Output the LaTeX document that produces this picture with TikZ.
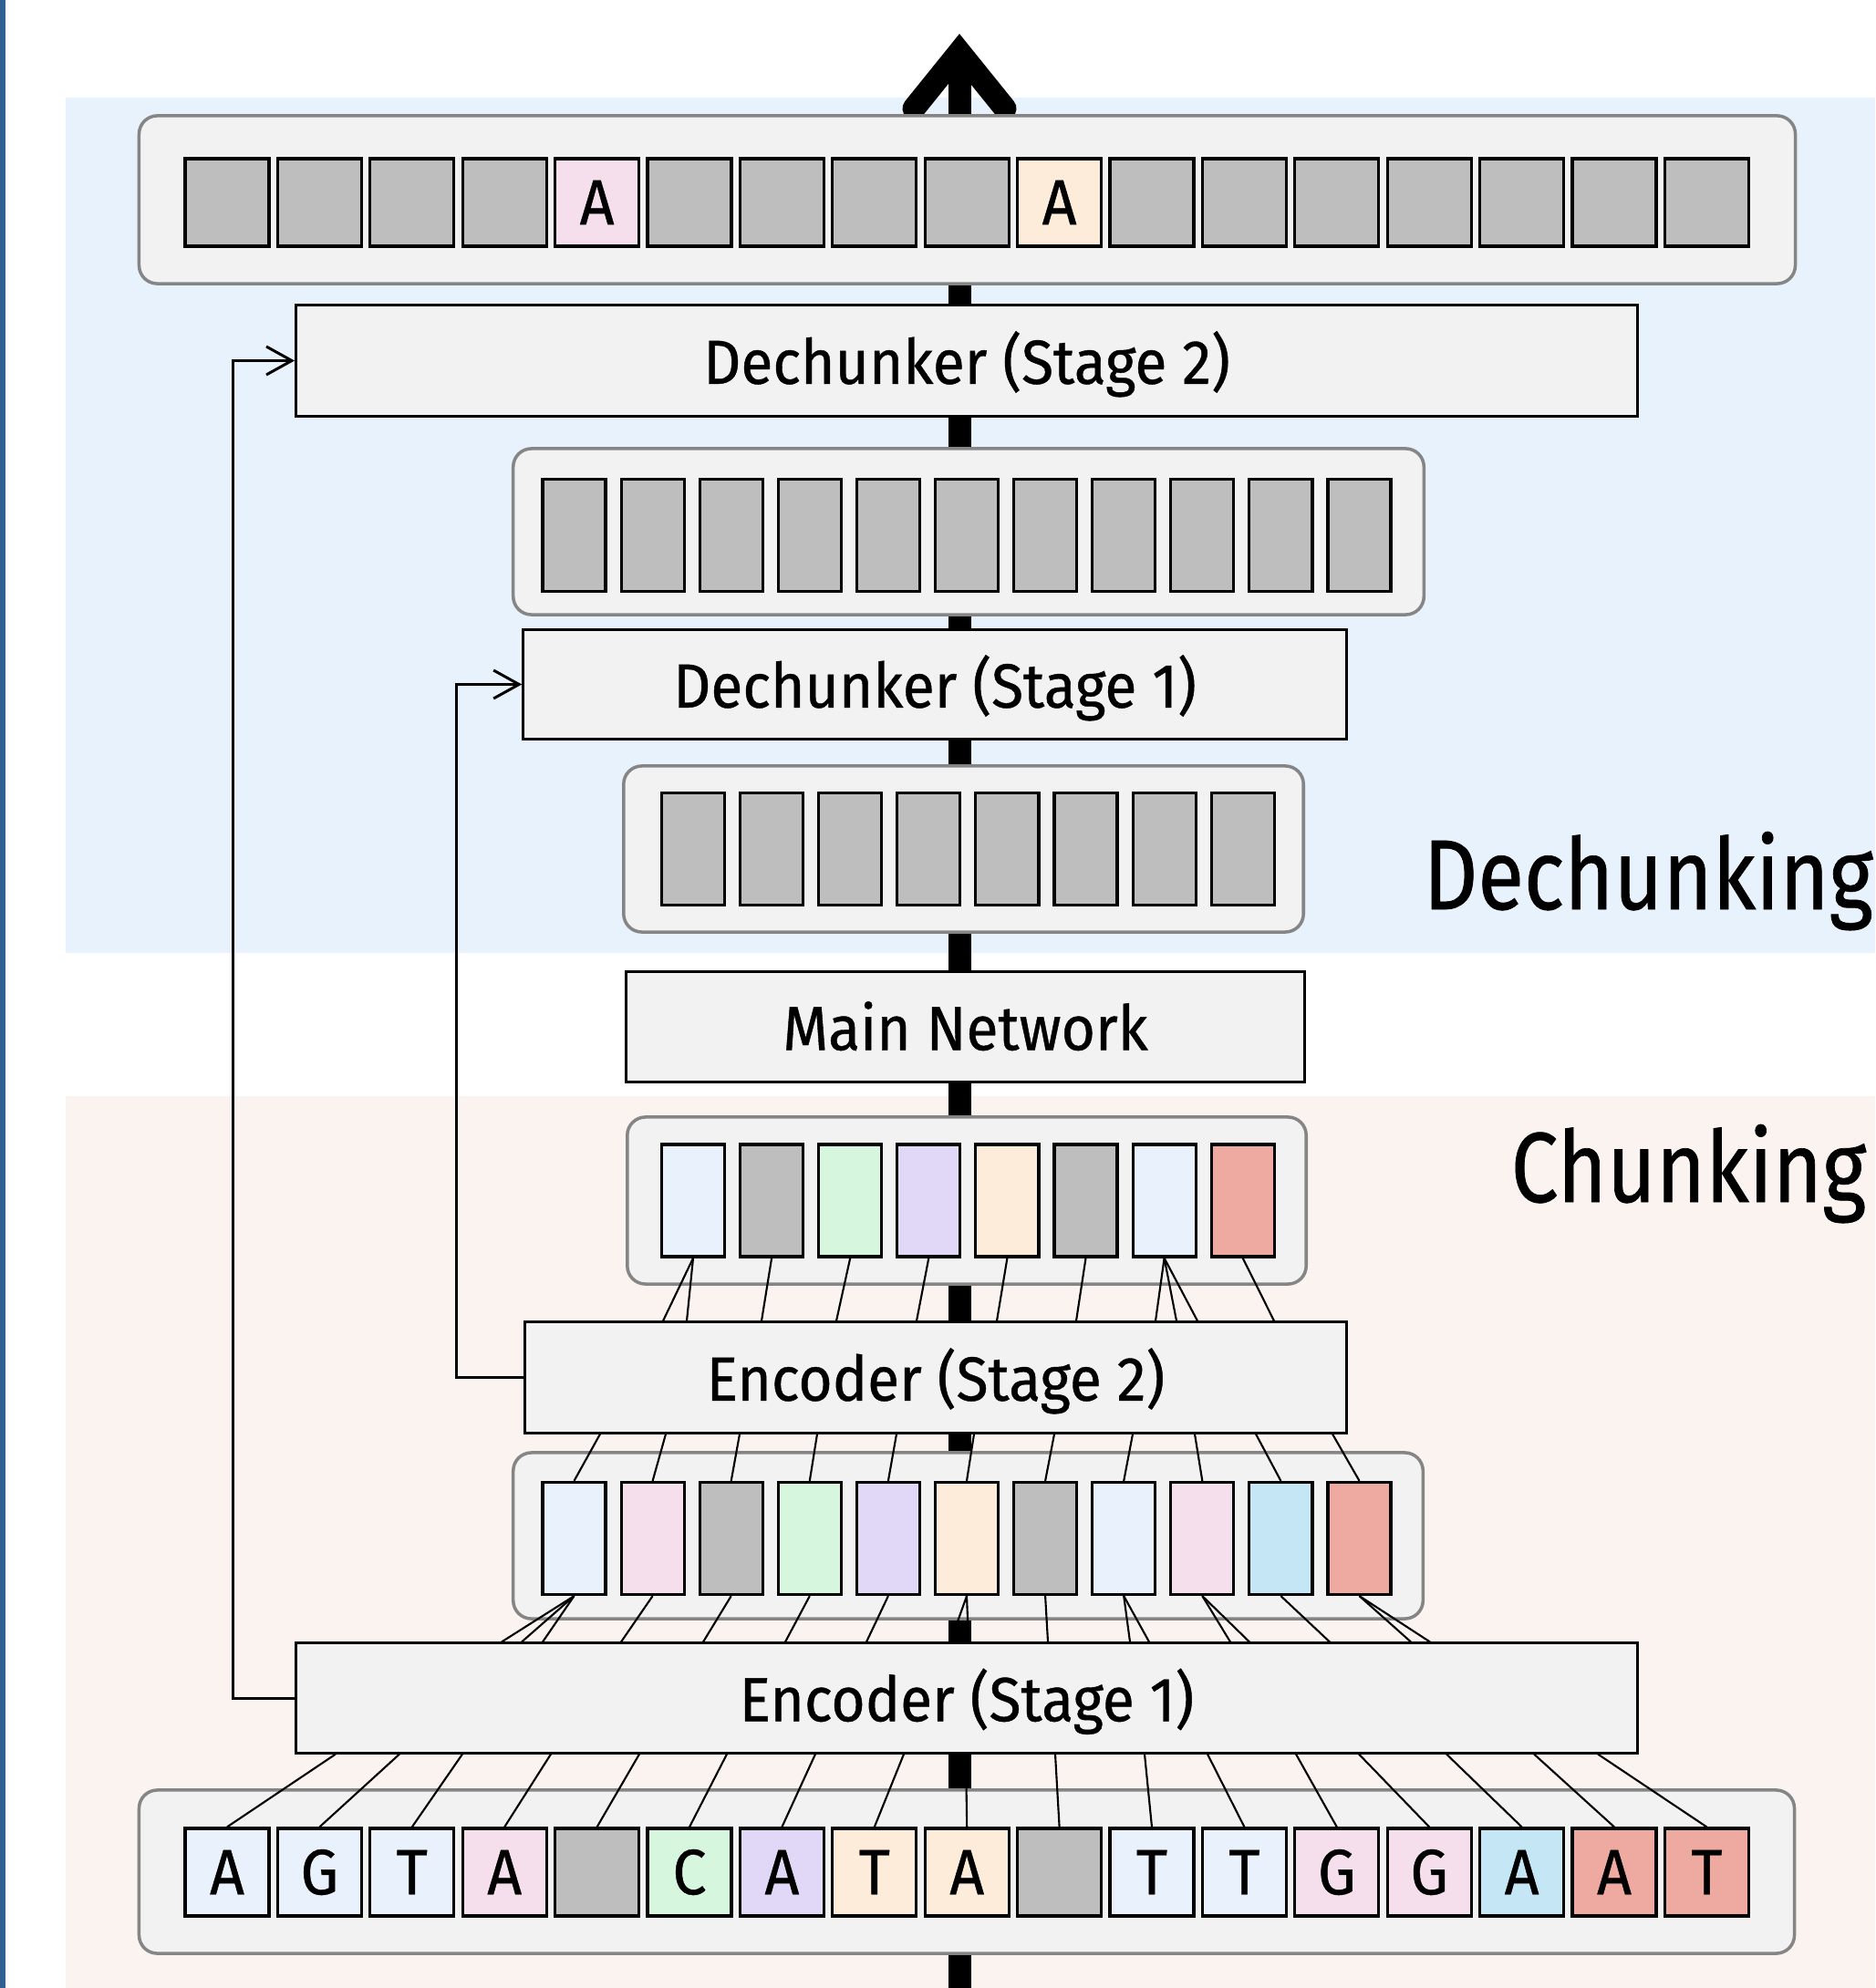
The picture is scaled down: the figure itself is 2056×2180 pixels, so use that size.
\documentclass[tikz,border=0pt]{standalone}
\usepackage{fontspec}
\setmainfont{Fira Sans}
\newfontfamily\boxfont[FakeStretch=0.94,FakeBold=0.6]{Fira Sans}
\newfontfamily\phasefont[FakeStretch=0.85,FakeBold=0.6]{Fira Sans}
\usetikzlibrary{arrows.meta,calc}
\definecolor{barblue}{RGB}{50,95,148}
\definecolor{dechunkbg}{RGB}{232,242,252}
\definecolor{chunkbg}{RGB}{251,243,240}
\definecolor{boxfill}{RGB}{242,242,242}
\definecolor{tgray}{RGB}{190,190,190}
\definecolor{tblue}{RGB}{233,241,253}
\definecolor{tpink}{RGB}{246,223,236}
\definecolor{tgreen}{RGB}{214,246,222}
\definecolor{tlav}{RGB}{224,216,246}
\definecolor{tpeach}{RGB}{253,236,217}
\definecolor{tsky}{RGB}{197,230,244}
\definecolor{tsalmon}{RGB}{238,170,160}
\begin{document}
\begin{tikzpicture}
	[x=0.01cm,y=-0.01cm,
	tok/.style={draw=black,line width=0.9pt,inner sep=0pt,
		minimum width=0.92cm,minimum height=0.96cm,
		font=\boxfont\fontsize{20}{24}\selectfont},
	vec/.style={tok,minimum width=0.69cm,minimum height=1.23cm},
	block/.style={draw=black,line width=0.85pt,fill=boxfill,inner sep=0pt,
		text height=15pt,text depth=0.6pt,
		font=\boxfont\fontsize{19.4}{23}\selectfont},
	tray/.style={draw=black!48,line width=1pt,fill=boxfill,
		rounded corners=0.2cm,inner sep=0pt},
	link/.style={line width=0.6pt},
	skip/.style={line width=0.85pt,-{Straight Barb[length=2.8mm,width=3.1mm]}},
	flow/.style={line width=0.25cm},
	phase/.style={anchor=base west,inner sep=0pt,font=\phasefont\fontsize{31}{36}\selectfont}]
	\useasboundingbox (0,0) rectangle (2056,2180);
	\clip (0,0) rectangle (2056,2180);

	\fill[white] (0,0) rectangle (2056,2180);
	\fill[barblue] (0,0) rectangle (6,2180);
	\fill[dechunkbg] (72,107) rectangle (2056,1045);
	\fill[chunkbg] (72,1202) rectangle (2056,2180);

	% main flow
	\coordinate (flowin) at (1052,2180);
	\coordinate (flowtip) at (1052,57);
	\coordinate (wingl) at ($(flowtip)+(-50,62)$);
	\coordinate (wingr) at ($(flowtip)+(50,62)$);
	\draw[flow] (flowin) -- (flowtip);
	\draw[flow,line cap=round] (wingl) -- (flowtip) -- (wingr);

	\node[tray,minimum width=18.15cm,minimum height=1.84cm] (outtray) at (1060.5,219) {};
	\node[tray,minimum width=9.98cm,minimum height=1.82cm] (uptray) at (1062,583) {};
	\node[tray,minimum width=7.45cm,minimum height=1.82cm] (midtray) at (1056.5,931) {};
	\node[tray,minimum width=7.44cm,minimum height=1.83cm] (chtray) at (1060,1316.5) {};
	\node[tray,minimum width=9.97cm,minimum height=1.82cm] (subtray) at (1061.5,1684) {};
	\node[tray,minimum width=18.14cm,minimum height=1.79cm] (intray) at (1060,2052.5) {};

	\node[block,minimum width=14.70cm,minimum height=1.21cm] (d2) at (1060,395.5) {Dechunker (Stage 2)};
	\node[block,minimum width=9.02cm,minimum height=1.19cm] (d1) at (1025,750.5) {Dechunker (Stage 1)};
	\node[block,minimum width=7.43cm,minimum height=1.20cm] (mn) at (1058.5,1126) {Main Network};
	\node[block,minimum width=9.00cm,minimum height=1.21cm] (e2) at (1026,1510.5) {Encoder (Stage 2)};
	\node[block,minimum width=14.70cm,minimum height=1.20cm] (e1) at (1060,1862) {Encoder (Stage 1)};

	\node[phase] (dlab) at (1560,997) {Dechunking};
	\node[phase] (clab) at (1656,1318) {Chunking};

	% token rows
	\foreach \c/\t [count=\i from 0] in {tgray/{},tgray/{},tgray/{},tgray/{},tpink/A,
		tgray/{},tgray/{},tgray/{},tgray/{},tpeach/A,tgray/{},tgray/{},tgray/{},
		tgray/{},tgray/{},tgray/{},tgray/{}}
		\node[tok,fill=\c] (out-\i) at ({249+101.4*\i},222) {\t};
	\foreach \c/\t [count=\i from 0] in {tblue/A,tblue/G,tblue/T,tpink/A,tgray/{},
		tgreen/C,tlav/A,tpeach/T,tpeach/A,tgray/{},tblue/T,tblue/T,tpink/G,
		tpink/G,tsky/A,tsalmon/A,tsalmon/T}
		\node[tok,fill=\c] (in-\i) at ({249+101.4*\i},2053) {\t};

	% chunk vectors
	\foreach \i in {0,...,10}
		\node[vec,fill=tgray] (up-\i) at ({629.5+86.1*\i},587) {};
	\foreach \i in {0,...,7}
		\node[vec,fill=tgray] (mid-\i) at ({760+86.1*\i},931) {};
	\foreach \c [count=\i from 0] in {tblue,tgray,tgreen,tlav,tpeach,tgray,tblue,tsalmon}
		\node[vec,fill=\c] (ch-\i) at ({760+86.1*\i},1316.5) {};
	\foreach \c [count=\i from 0] in {tblue,tpink,tgray,tgreen,tlav,tpeach,tgray,
		tblue,tpink,tsky,tsalmon}
		\node[vec,fill=\c] (sub-\i) at ({629.5+86.1*\i},1687) {};

	% encoder wiring
	\foreach \i/\x in {0/368,1/438,2/507,3/604,4/701,5/797,6/894,7/991,8/1059,
		9/1157,10/1255,11/1324,12/1421,13/1490,14/1586,15/1682,16/1752}
		\draw[link] (in-\i.north) -- (\x,0 |- e1.south);
	\foreach \i/\x in {0/550,0/572,0/595,1/681,2/771,3/861,4/950,5/1042,5/1062,
		6/1149,7/1239,7/1260,8/1349,8/1370,9/1458,10/1547,10/1568}
		\draw[link] (sub-\i.south) -- (\x,0 |- e1.north);
	\foreach \i/\x in {0/658,1/730,2/811,3/896,4/983,5/1068,6/1156,7/1242,
		8/1310,9/1377,10/1461}
		\draw[link] (sub-\i.north) -- (\x,0 |- e2.south);
	\foreach \i/\x in {0/727,0/753,1/835,2/917,3/1005,4/1093,5/1180,6/1267,
		6/1290,6/1313,7/1397}
		\draw[link] (ch-\i.south) -- (\x,0 |- e2.north);

	% skips
	\draw[skip] (e1.west) -- ++(-68,0) |- (d2.west);
	\draw[skip] (e2.west) -- ++(-74,0) |- (d1.west);
\end{tikzpicture}
\end{document}
